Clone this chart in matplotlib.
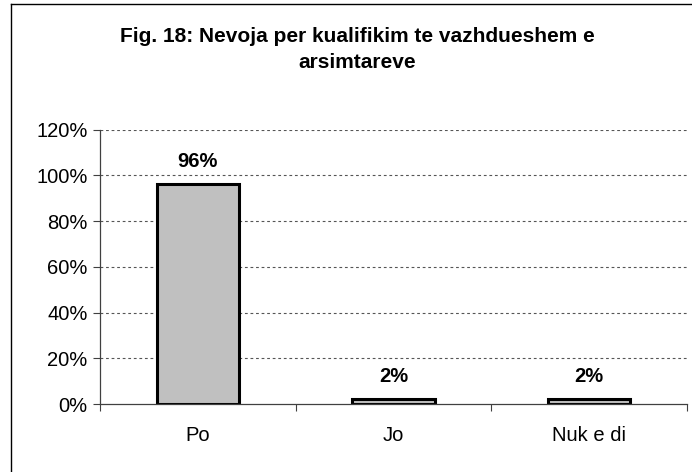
import matplotlib.pyplot as plt
from matplotlib.lines import Line2D
from matplotlib.ticker import FuncFormatter, FixedLocator

categories = ["Po", "Jo", "Nuk e di"]
values = [96, 2, 2]
title_lines = ["Fig. 18: Nevoja per kualifikim te vazhdueshem e", "arsimtareve"]

plt.rcParams['font.family'] = ['Liberation Sans', 'DejaVu Sans']

W, H = 692, 472
fig = plt.figure(figsize=(W / 100, H / 100), dpi=100)
ax = fig.add_axes([100 / W, 1 - 404 / H, 587 / W, 274.5 / H])

x = list(range(len(categories)))
ax.bar(x, values, width=0.42, color="#c0c0c0", edgecolor="black", linewidth=2.2, zorder=3)

for xi, v in zip(x, values):
    ax.text(xi, v + 7.6, f"{v}%", ha="center", va="baseline", fontsize=14.5, fontweight="bold")

ax.set_xlim(-0.5, len(categories) - 0.5)
ax.set_ylim(0, 120)
ax.set_yticks(range(0, 121, 20))
ax.yaxis.set_major_formatter(FuncFormatter(lambda v, p: f"{int(v)}%"))
ax.tick_params(axis="y", labelsize=14.5, length=5, width=0.8, color="#404040", pad=4)

ax.set_xticks(x)
ax.set_xticklabels(categories)
ax.tick_params(axis="x", which="major", length=0, labelsize=14.5, pad=16)
ax.xaxis.set_minor_locator(FixedLocator([-0.5, 0.5, 1.5, 2.5]))
ax.tick_params(axis="x", which="minor", length=5, width=0.8, color="#404040", direction="out")

for yv in range(20, 121, 20):
    ax.axhline(yv, color="#555555", linestyle=(0, (2.5, 2.5)), linewidth=0.8, zorder=1)

for s in ["top", "right"]:
    ax.spines[s].set_visible(False)
for s in ["left", "bottom"]:
    ax.spines[s].set_color("#404040")
    ax.spines[s].set_linewidth(0.9)
    ax.spines[s].set_zorder(4)

fig.text(357 / W, 1 - 42 / H, title_lines[0], ha="center", va="baseline", fontsize=15, fontweight="bold")
fig.text(357 / W, 1 - 68 / H, title_lines[1], ha="center", va="baseline", fontsize=15, fontweight="bold")

# chart frame (right and bottom edges fall outside the image)
fig.add_artist(Line2D([11.5 / W, 11.5 / W], [0, 1 - 3.5 / H], color="black", linewidth=1.0))
fig.add_artist(Line2D([11.5 / W, 1], [1 - 3.5 / H, 1 - 3.5 / H], color="black", linewidth=1.0))

fig.savefig("out.png", dpi=100)
